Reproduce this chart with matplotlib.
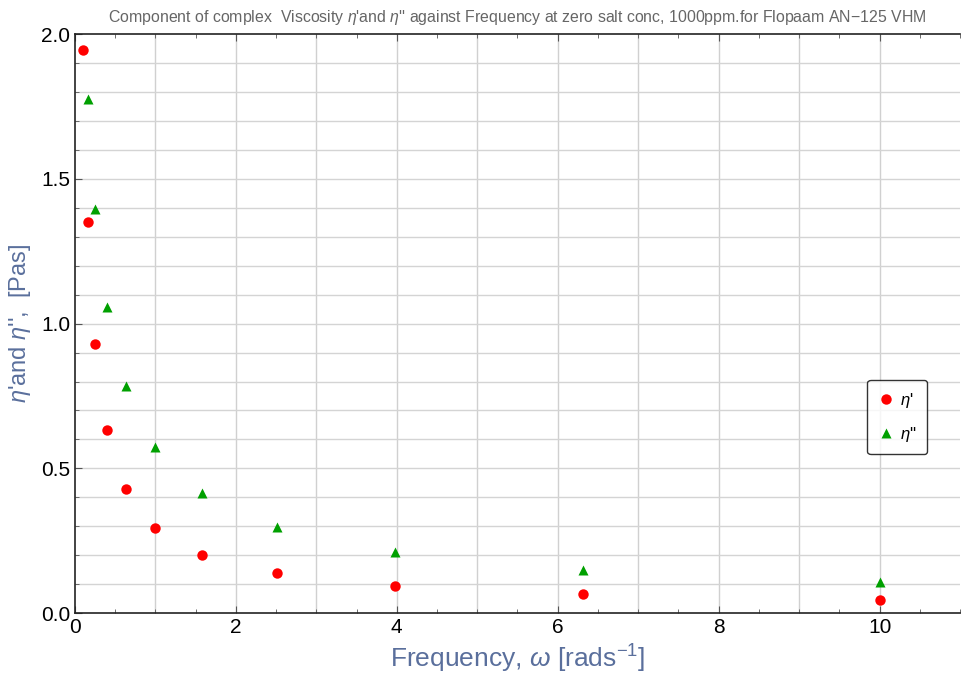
import numpy as np
import matplotlib.pyplot as plt
from matplotlib.ticker import MultipleLocator

plt.rcParams['font.family'] = ['Liberation Sans', 'DejaVu Sans']
plt.rcParams['mathtext.fontset'] = 'custom'
plt.rcParams['mathtext.it'] = 'Liberation Sans:italic'
plt.rcParams['mathtext.rm'] = 'Liberation Sans'

# frequency (rad/s) and viscosity components (Pa s)
freq = [0.1, 0.158, 0.251, 0.398, 0.631, 1.0, 1.585, 2.512, 3.981, 6.31, 10.0]
eta_p = [1.944, 1.351, 0.929, 0.632, 0.427, 0.293, 0.200, 0.137, 0.093, 0.065, 0.047]
freq2 = [0.158, 0.251, 0.398, 0.631, 1.0, 1.585, 2.512, 3.981, 6.31, 10.0]
eta_pp = [1.775, 1.397, 1.058, 0.784, 0.574, 0.416, 0.298, 0.212, 0.149, 0.108]

lab_col = '#5a6f9c'

fig = plt.figure(figsize=(9.61, 6.82), dpi=100)
ax = fig.add_axes([0.078, 0.101, 0.921, 0.849])

ax.plot(freq, eta_p, 'o', color='#ff0000', ms=7.5, mec='none', label="$\\eta$'")
ax.plot(freq2, eta_pp, '^', color='#00a000', ms=6.5, mec='none', label="$\\eta$''")

ax.set_xlim(0, 11)
ax.set_ylim(0, 2.0)
ax.xaxis.set_major_locator(MultipleLocator(2))
ax.xaxis.set_minor_locator(MultipleLocator(0.5))
ax.yaxis.set_minor_locator(MultipleLocator(0.1))
ax.set_yticks(np.arange(0, 2.01, 0.5))
ax.set_yticklabels(['0.0', '0.5', '1.0', '1.5', '2.0'])

# grid: every unit in x, every 0.1 in y
for xv in range(1, 11):
    ax.axvline(xv, color='#d0d0d0', lw=1, zorder=0)
for yv in np.arange(0.1, 2.0, 0.1):
    ax.axhline(yv, color='#d4d4d4', lw=1, zorder=0)

ax.tick_params(which='both', direction='in', top=True, right=False, labelsize=15, colors='#000000')
ax.tick_params(which='major', length=5, color='#555555')
ax.tick_params(which='minor', length=3, color='#555555')
ax.spines['right'].set_visible(False)
for s in ['left', 'bottom', 'top']:
    ax.spines[s].set_color('#222222')
    ax.spines[s].set_linewidth(1.2)

ax.set_xlabel('Frequency, $\\omega$ [rads$^{-1}$]', fontsize=19, color=lab_col, labelpad=4)
ax.set_ylabel("$\\eta$'and $\\eta$'',  [Pas]", fontsize=17, color=lab_col, labelpad=6)
ax.set_title("Component of complex  Viscosity $\\eta$'and $\\eta$'' against Frequency at zero salt conc, 1000ppm.for Flopaam AN\u2212125 VHM",
             fontsize=11.4, color='#666666', pad=9)

leg = ax.legend(loc='center', bbox_to_anchor=(0.929, 0.3385), fontsize=12, frameon=True,
                fancybox=True, edgecolor='#000000', handletextpad=0.3, borderpad=0.65,
                labelspacing=0.9, handlelength=1.0, borderaxespad=0)
leg.get_frame().set_linewidth(1.0)

fig.savefig('out.png', dpi=100)
